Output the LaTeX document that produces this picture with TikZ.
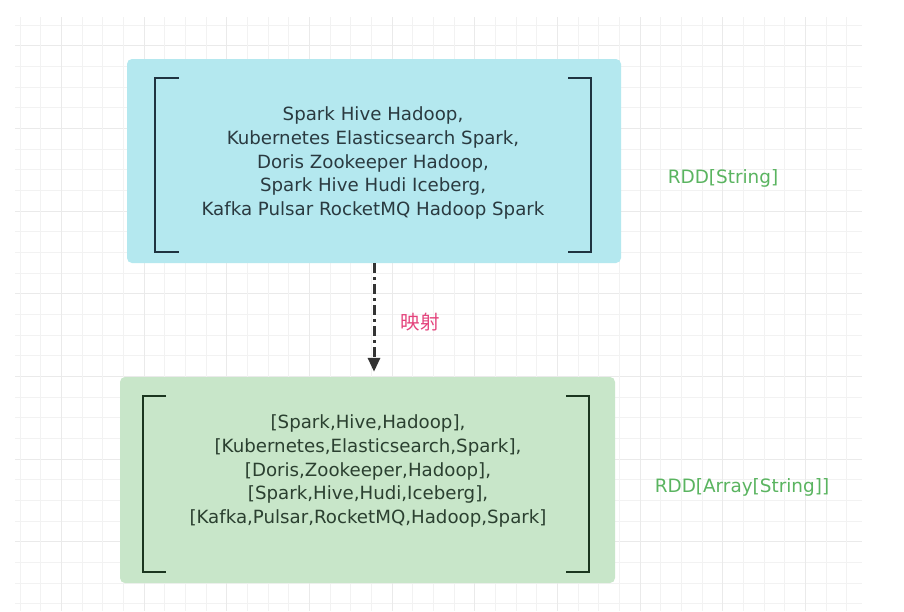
\documentclass[tikz,border=0pt]{standalone}
\usepackage{fontspec}
\setmainfont{DejaVu Sans}
\newfontfamily\cjkfont{Noto Sans CJK SC}
\usepackage{xcolor}
\usetikzlibrary{arrows.meta,positioning}

\definecolor{gridminor}{HTML}{F2F2F2}
\definecolor{gridmajor}{HTML}{EAEAEA}
\definecolor{strfill}{HTML}{B4E8EF}
\definecolor{arrfill}{HTML}{C8E6C9}
\definecolor{strink}{HTML}{1F3340}
\definecolor{arrink}{HTML}{1B361F}
\definecolor{strtext}{HTML}{2A3A40}
\definecolor{arrtext}{HTML}{2B4030}
\definecolor{typegreen}{HTML}{5AB460}
\definecolor{mappink}{HTML}{E4437C}

\begin{document}
\begin{tikzpicture}[x=1pt,y=-1pt,
    every node/.style={inner sep=0pt},
    listbox/.style={rounded corners=5pt, minimum height=205pt},
    listtext/.style={align=center, font=\fontsize{18.2}{23.7}\selectfont},
    typelabel/.style={text=typegreen, font=\fontsize{18.4}{22}\selectfont},
    bracket/.style={line width=2pt},
    mapline/.style={line width=3pt, black!80, dash pattern=on 10pt off 4pt on 3pt off 4pt,
        -{Triangle[length=14pt,width=12pt]}}]
    \useasboundingbox[fill=white] (0,0) rectangle (904,611);
    % grid
    \foreach \k in {0,...,28} {
            \pgfmathtruncatemacro{\m}{mod(\k,4)}
            \ifnum\m=1 \def\gc{gridmajor}\else\def\gc{gridminor}\fi
            \draw[\gc, line width=0.8pt] (15,{25+20.67*\k}) -- (862,{25+20.67*\k});
        }
    \foreach \k in {0,...,40} {
            \pgfmathtruncatemacro{\m}{mod(\k,4)}
            \ifnum\m=2 \def\gc{gridmajor}\else\def\gc{gridminor}\fi
            \draw[\gc, line width=0.8pt] ({20+20.67*\k},17) -- ({20+20.67*\k},611);
        }

    % boxes
    \node[listbox, fill=strfill, minimum width=494pt, minimum height=204pt] (strBox) at (374,161) {};
    \node[listbox, fill=arrfill, minimum width=495pt, minimum height=206pt] (arrBox) at (367.5,480) {};

    % brackets
    \draw[bracket, strink] (179,78) -- (155,78) -- (155,252) -- (179,252);
    \draw[bracket, strink] (568,78) -- (591,78) -- (591,252) -- (568,252);
    \draw[bracket, arrink] (166,396) -- (143,396) -- (143,572) -- (166,572);
    \draw[bracket, arrink] (566,396) -- (589,396) -- (589,572) -- (566,572);

    \node[listtext, text=strtext] (strText) at (373,163) {Spark Hive Hadoop,\\
        Kubernetes Elasticsearch Spark,\\
        Doris Zookeeper Hadoop,\\
        Spark Hive Hudi Iceberg,\\
        Kafka Pulsar RocketMQ Hadoop Spark};
    \node[listtext, text=arrtext] (arrText) at (368,471) {[Spark,Hive,Hadoop],\\{}%
        [Kubernetes,Elasticsearch,Spark],\\{}%
        [Doris,Zookeeper,Hadoop],\\{}%
        [Spark,Hive,Hudi,Iceberg],\\{}%
        [Kafka,Pulsar,RocketMQ,Hadoop,Spark]};

    \node[typelabel] (strType) at (723,178) {RDD[String]};
    \node[typelabel] (arrType) at (742,487) {RDD[Array[String]]};

    % mapping
    \draw[mapline, shorten >=5pt] (strBox.south) -- (arrBox.north -| strBox.south);
    \node[text=mappink, font=\cjkfont\fontsize{19.5}{22}\selectfont] (mapLabel) at (420,322) {映射};
\end{tikzpicture}
\end{document}
